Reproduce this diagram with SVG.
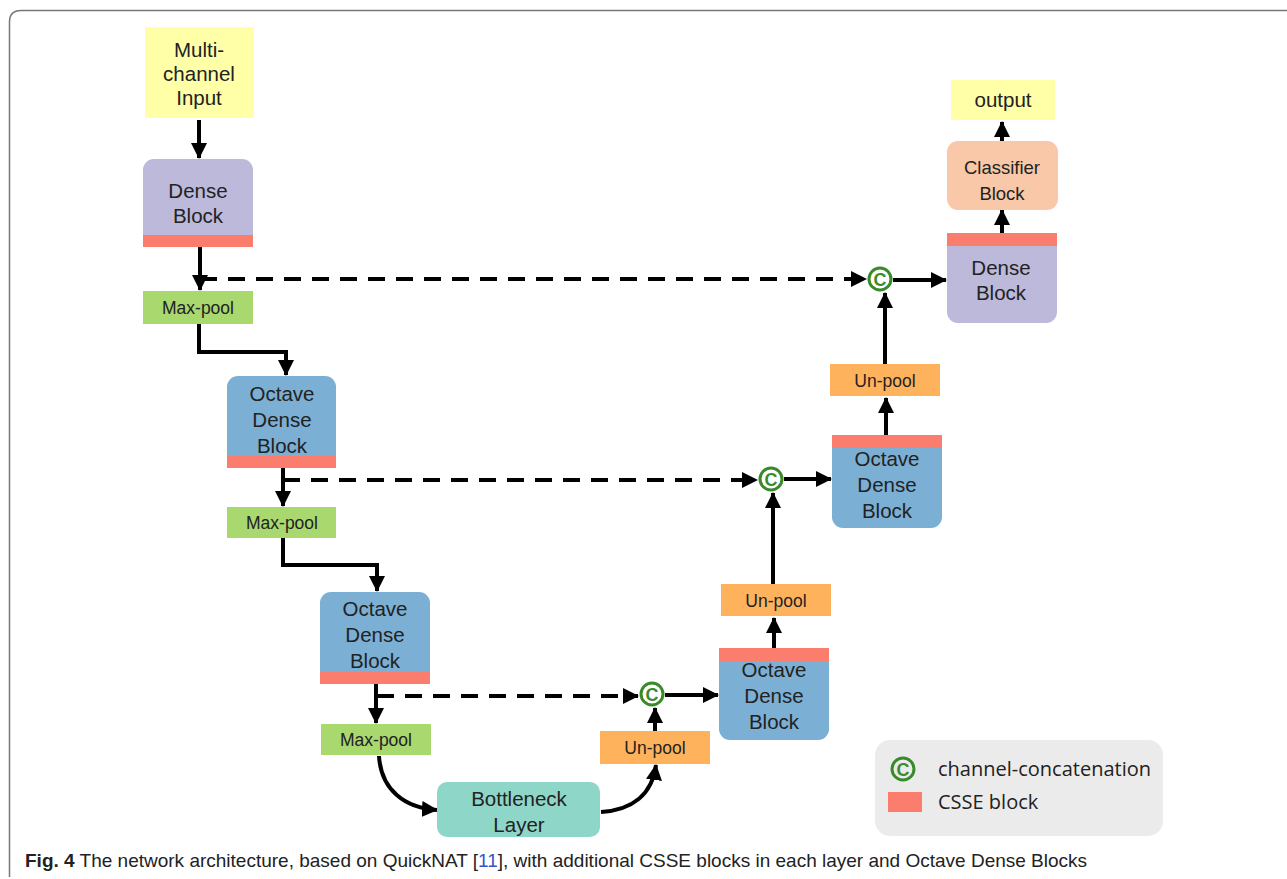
<svg xmlns="http://www.w3.org/2000/svg" width="1287" height="879" viewBox="0 0 1287 879">
<defs>
<marker id="ah" markerUnits="userSpaceOnUse" markerWidth="16" markerHeight="16" viewBox="0 0 16 16" refX="15" refY="8" orient="auto">
<path d="M0,0 L16,8 L0,16 z" fill="#000"/>
</marker>
<style>
.t{font-family:"Liberation Sans",Arial,sans-serif;font-size:20.5px;fill:#222;text-anchor:middle;}
.s{font-family:"Liberation Sans",Arial,sans-serif;font-size:17.5px;fill:#222;text-anchor:middle;}
.ln{fill:none;stroke:#000;stroke-width:4;marker-end:url(#ah);}
.ds{fill:none;stroke:#000;stroke-width:4;stroke-dasharray:17 11;marker-end:url(#ah);}
.yel{fill:#FFFFA8;}
.lav{fill:#BDB9DA;}
.blu{fill:#7BAFD4;}
.grn{fill:#A9D86E;}
.org{fill:#FFB25C;}
.red{fill:#FA7D6E;}
.cc{fill:#fff;stroke:#3A8A2A;stroke-width:3;}
.ct{font-family:"Liberation Sans",Arial,sans-serif;font-size:18px;font-weight:bold;fill:#3A8A2A;text-anchor:middle;}
.lg{font-family:"Open Sans","DejaVu Sans",sans-serif;font-size:20px;fill:#222;}
.cap{font-family:"Liberation Sans",Arial,sans-serif;font-size:19px;fill:#222;}
</style>
</defs>
<rect x="0" y="0" width="1287" height="879" fill="#fff"/>
<path d="M9.5,877 L9.5,22 Q9.5,10.5 21,10.5 L1287,10.5" fill="none" stroke="#777" stroke-width="1.5"/>

<g id="connectors">
<path class="ln" d="M199,120 L199,158"/>
<path class="ln" d="M200,247 L200,290"/>
<path class="ds" d="M200,279 L866,279"/>
<path class="ln" d="M199,324 L199,352 L286,352 L286,375"/>
<path class="ln" d="M283,468 L283,506"/>
<path class="ds" d="M283,480 L757,480"/>
<path class="ln" d="M283,538 L283,565 L377,565 L377,591"/>
<path class="ln" d="M376,684 L376,723"/>
<path class="ds" d="M377,696 L638,696"/>
<path class="ln" d="M379,756 C381,790 405,808 437,810"/>
<path class="ln" d="M601,812 C632,810 652,795 656,765"/>
<path class="ln" d="M655,731 L655,708"/>
<path class="ln" d="M665,695 L718,695"/>
<path class="ln" d="M774,648 L774,618"/>
<path class="ln" d="M773,584 L773,493"/>
<path class="ln" d="M784,479 L831,479"/>
<path class="ln" d="M886,435 L886,398"/>
<path class="ln" d="M885,364 L885,293"/>
<path class="ln" d="M893,280 L946,280"/>
<path class="ln" d="M1002,233 L1002,210"/>
<path class="ln" d="M1002,141 L1002,122"/>
</g>

<g id="input">
<rect class="yel" x="145" y="27" width="109" height="91"/>
<text class="t" x="199" y="57">Multi-</text>
<text class="t" x="199" y="81">channel</text>
<text class="t" x="199" y="105">Input</text>
</g>

<g id="dense1">
<rect class="lav" x="143" y="159" width="110" height="87" rx="11"/>
<rect class="red" x="143" y="235" width="110" height="12"/>
<text class="t" x="198" y="198">Dense</text>
<text class="t" x="198" y="223">Block</text>
</g>

<g id="maxpool1">
<rect class="grn" x="143" y="291" width="110" height="33"/>
<text class="s" x="198" y="314">Max-pool</text>
</g>

<g id="octave1">
<rect class="blu" x="227" y="376" width="109" height="92" rx="11"/>
<rect class="red" x="227" y="456" width="109" height="12"/>
<text class="t" x="282" y="401">Octave</text>
<text class="t" x="282" y="427">Dense</text>
<text class="t" x="282" y="453">Block</text>
</g>

<g id="maxpool2">
<rect class="grn" x="227" y="507" width="109" height="31"/>
<text class="s" x="282" y="529">Max-pool</text>
</g>

<g id="octave2">
<rect class="blu" x="320" y="592" width="110" height="92" rx="11"/>
<rect class="red" x="320" y="672" width="110" height="12"/>
<text class="t" x="375" y="616">Octave</text>
<text class="t" x="375" y="642">Dense</text>
<text class="t" x="375" y="668">Block</text>
</g>

<g id="maxpool3">
<rect class="grn" x="321" y="724" width="110" height="31"/>
<text class="s" x="376" y="746">Max-pool</text>
</g>

<g id="bottleneck">
<rect x="437" y="782" width="163" height="55" rx="10" fill="#8ED6C8"/>
<text class="t" x="519" y="806">Bottleneck</text>
<text class="t" x="519" y="832">Layer</text>
</g>

<g id="unpool3">
<rect class="org" x="600" y="731" width="110" height="33"/>
<text class="s" x="655" y="754">Un-pool</text>
</g>

<g id="concat3">
<circle class="cc" cx="652" cy="694" r="11"/>
<text class="ct" x="652" y="700.5">C</text>
</g>

<g id="octave3">
<rect class="blu" x="719" y="648" width="110" height="92" rx="11"/>
<rect class="red" x="719" y="648" width="110" height="13"/>
<text class="t" x="774" y="677">Octave</text>
<text class="t" x="774" y="703">Dense</text>
<text class="t" x="774" y="729">Block</text>
</g>

<g id="unpool2">
<rect class="org" x="721" y="584" width="110" height="32"/>
<text class="s" x="776" y="607">Un-pool</text>
</g>

<g id="concat2">
<circle class="cc" cx="771" cy="479" r="11"/>
<text class="ct" x="771" y="485.5">C</text>
</g>

<g id="octave4">
<rect class="blu" x="832" y="435" width="110" height="93" rx="11"/>
<rect class="red" x="832" y="435" width="110" height="13"/>
<text class="t" x="887" y="466">Octave</text>
<text class="t" x="887" y="492">Dense</text>
<text class="t" x="887" y="518">Block</text>
</g>

<g id="unpool1">
<rect class="org" x="830" y="364" width="110" height="32"/>
<text class="s" x="885" y="387">Un-pool</text>
</g>

<g id="concat1">
<circle class="cc" cx="880" cy="279" r="11"/>
<text class="ct" x="880" y="285.5">C</text>
</g>

<g id="dense2">
<rect class="lav" x="947" y="233" width="110" height="90" rx="11"/>
<rect class="red" x="947" y="233" width="110" height="13"/>
<text class="t" x="1001" y="275">Dense</text>
<text class="t" x="1001" y="300">Block</text>
</g>

<g id="classifier">
<rect x="947" y="141" width="111" height="69" rx="11" fill="#F8C8A8"/>
<text class="s" x="1002" y="174" style="font-size:18.5px">Classifier</text>
<text class="s" x="1002" y="200" style="font-size:18.5px">Block</text>
</g>

<g id="output">
<rect class="yel" x="951" y="80" width="104" height="40"/>
<text class="t" x="1003" y="107">output</text>
</g>

<g id="legend">
<rect x="875" y="740" width="288" height="96" rx="15" fill="#EBEBEB"/>
<circle class="cc" cx="903" cy="769" r="11" style="fill:none"/>
<text class="ct" x="903" y="775.5">C</text>
<text class="lg" x="938" y="776">channel-concatenation</text>
<rect class="red" x="888" y="792" width="34" height="20"/>
<text class="lg" x="938" y="809">CSSE block</text>
</g>

<g id="caption">
<text class="cap" x="25" y="867"><tspan font-weight="bold">Fig. 4</tspan>  The network architecture, based on QuickNAT [<tspan style="fill:#3355CC">11</tspan>], with additional CSSE blocks in each layer and Octave Dense Blocks</text>
</g>
</svg>
